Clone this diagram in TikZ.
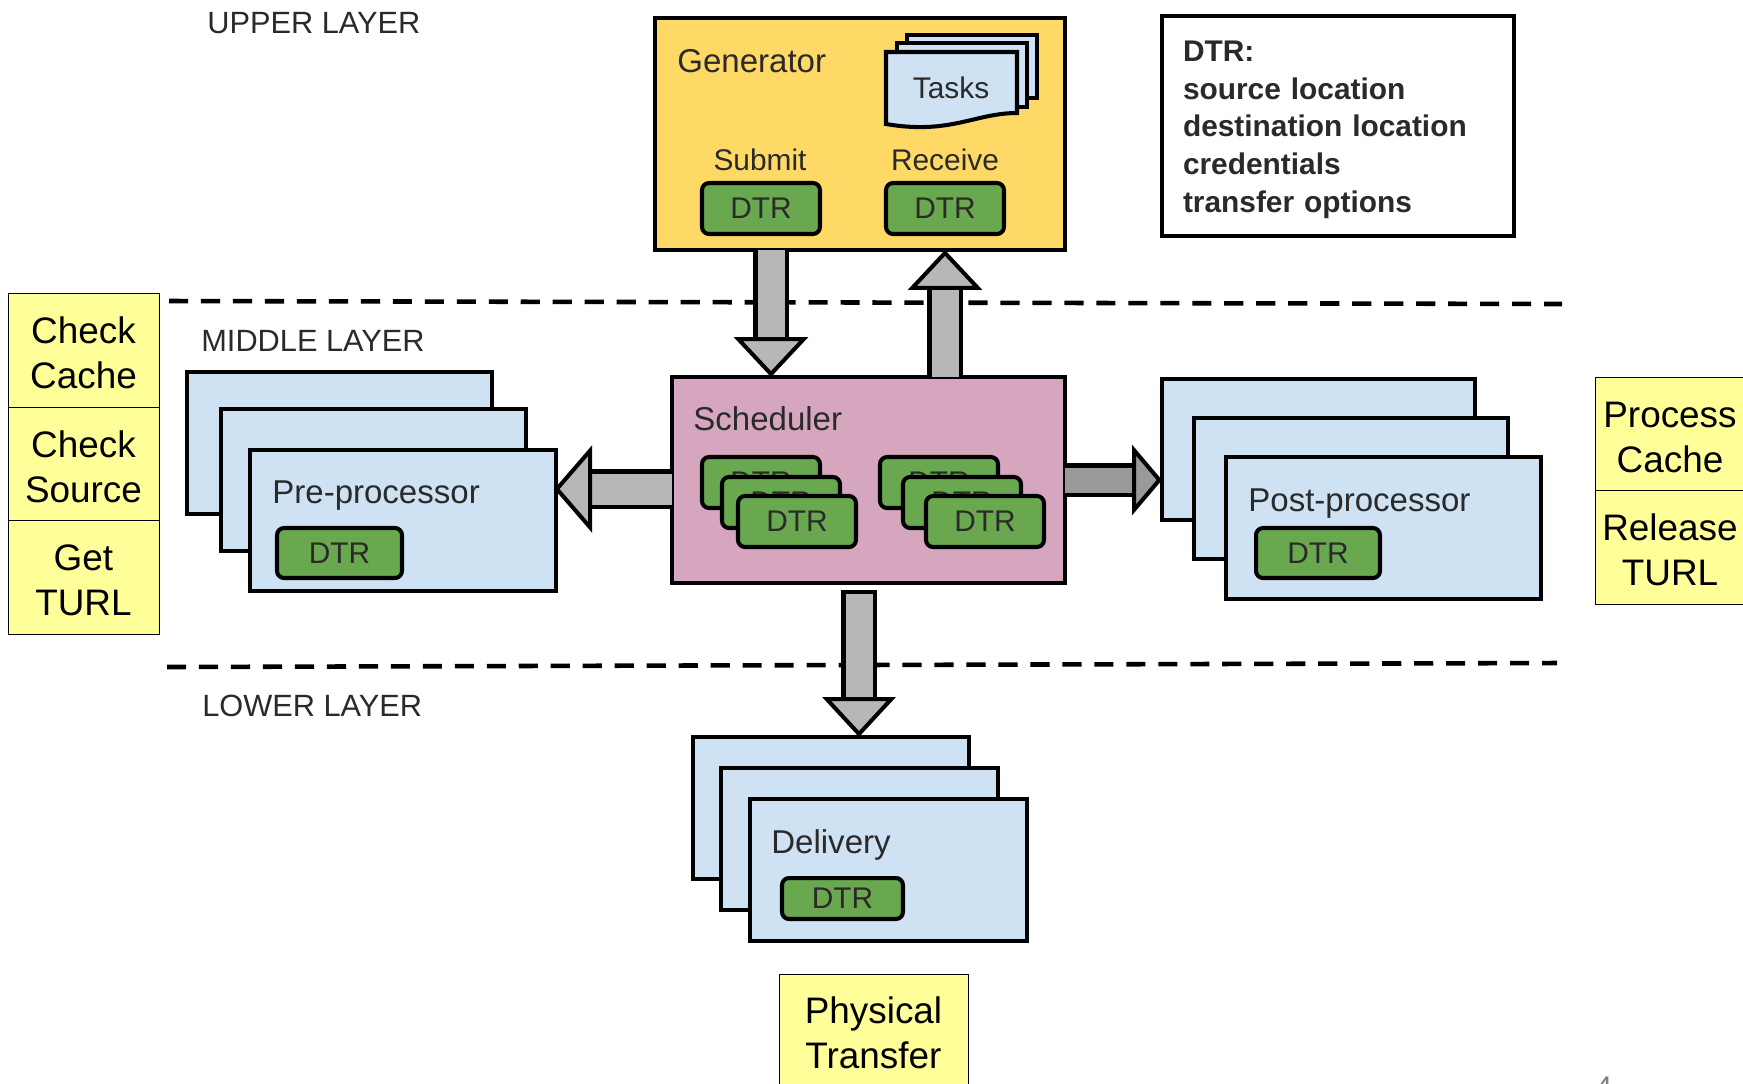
\documentclass[tikz,border=0pt]{standalone}
\usepackage{fontspec}
\setmainfont{Liberation Sans}
\usetikzlibrary{arrows.meta}
\definecolor{genyellow}{HTML}{FFD966}
\definecolor{schedpink}{HTML}{D5A6BD}
\definecolor{procblue}{HTML}{CFE2F3}
\definecolor{dtrgreen}{HTML}{6AA84F}
\definecolor{stepyellow}{HTML}{FFFF99}
\definecolor{arrowgray}{HTML}{B7B7B7}
\definecolor{arrowdark}{HTML}{999999}
\definecolor{labeltext}{HTML}{2A2A2A}
\tikzset{
  bigbox/.style={draw=black,line width=2.3pt,anchor=north west,inner sep=0pt,outer sep=0pt},
  procbox/.style={bigbox,fill=procblue},
  dtrbox/.style={draw=black,line width=2.3pt,fill=dtrgreen,rounded corners=4pt,anchor=north west,inner sep=0pt,outer sep=0pt,text=labeltext,font=\fontsize{17}{20}\selectfont},
  lbl/.style={inner sep=0pt,text=labeltext,font=\fontsize{18.8}{22}\selectfont},
  smalllbl/.style={inner sep=0pt,text=labeltext,font=\fontsize{17}{20}\selectfont},
  layerlbl/.style={inner sep=0pt,anchor=west,text=labeltext,font=\fontsize{17.5}{20}\selectfont},
  stepbox/.style={draw=black,line width=.5pt,fill=stepyellow,anchor=north west,inner sep=0pt,outer sep=0pt,text width=2.9cm,align=center,font=\fontsize{21}{25.6}\selectfont,execute at begin node={\rule{0pt}{20.3pt}},execute at end node={\rule[-1.9pt]{0pt}{1pt}}},
  layerline/.style={line width=2.6pt,dash pattern=on 10.9pt off 7.3pt},
  blockarrow/.style={draw=black,line width=2.3pt,double=arrowgray,double distance=.54cm,
    -{Triangle[length=.8cm,width=1.48cm,fill=arrowgray,line width=2.3pt]}},
  lowarrow/.style={draw=black,line width=2.3pt,double=arrowgray,double distance=.54cm,
    {Bar[width=.72cm,line width=2.3pt]}-{Triangle[length=.8cm,width=1.46cm,fill=arrowgray,line width=2.3pt]}},
  widearrow/.style={draw=black,line width=2.3pt,double=arrowgray,double distance=.62cm,shorten >=-1pt,
    -{Triangle[length=.76cm,width=1.74cm,fill=arrowgray,line width=2.3pt]}},
  darkarrow/.style={draw=black,line width=2.3pt,double=arrowdark,double distance=.5cm,
    -{Triangle[length=.6cm,width=1.4cm,fill=arrowdark,line width=2.3pt]}},
}
\begin{document}
\begin{tikzpicture}[x=.02cm,y=-.02cm]
  \useasboundingbox (0,0) rectangle (1743,1083);

  \coordinate (upperleft) at (169,301);
  \coordinate (upperright) at (1562,304);
  \coordinate (lowerleft) at (167,667);
  \coordinate (lowerright) at (1557,663);
  \draw[layerline] (upperleft) -- (upperright);
  \draw[layerline] (lowerleft) -- (lowerright);

  \node[layerlbl] (upperlbl) at (207,23) {UPPER LAYER};
  \node[layerlbl] (middlelbl) at (201,341) {MIDDLE LAYER};
  \node[layerlbl] (lowerlbl) at (202,706) {LOWER LAYER};

  \node[bigbox,fill=genyellow,minimum width=8.2cm,minimum height=4.64cm] (gen) at (655,18) {};
  \node[lbl,anchor=west] (genlbl) at (677,61) {Generator};
  \node[bigbox,fill=procblue,minimum width=2.6cm,minimum height=1.26cm] (taskc) at (907,35) {};
  \node[bigbox,fill=procblue,minimum width=2.6cm,minimum height=1.28cm] (taskb) at (897,43) {};
  \draw[line width=2.3pt,fill=procblue] (886,52) -- (1017,52) -- (1017,113)
     .. controls (975,113) and (950,135) .. (886,124) -- cycle;
  \node[smalllbl] (tasks) at (951,88) {Tasks};
  \node[smalllbl] (submit) at (760,160) {Submit};
  \node[smalllbl] (receive) at (945,160) {Receive};
  \node[dtrbox,minimum width=2.36cm,minimum height=1.02cm] (gendtra) at (702,183) {DTR};
  \node[dtrbox,minimum width=2.36cm,minimum height=1.02cm] (gendtrb) at (886,183) {DTR};

  \node[draw=black,line width=2.3pt,anchor=north west,inner sep=0pt,inner xsep=.42cm,outer sep=0pt,
     text width=6.2cm,minimum height=4.4cm,align=left,text=labeltext,execute at begin node={\rule{0pt}{16pt}},
     font=\fontsize{17}{21.4}\selectfont\bfseries] (legend) at (1162,16)
     {DTR:\\source location\\destination location\\credentials\\transfer options};

  \node[bigbox,fill=schedpink,minimum width=7.86cm,minimum height=4.12cm] (sched) at (672,377) {};
  \node[lbl,anchor=west] (schedlbl) at (693,419) {Scheduler};
  \node[dtrbox,minimum width=2.36cm,minimum height=1.02cm] (dtrla) at (702,457) {DTR};
  \node[dtrbox,minimum width=2.36cm,minimum height=1.02cm] (dtrlb) at (722,477) {DTR};
  \node[dtrbox,minimum width=2.36cm,minimum height=1.02cm] (dtrlc) at (738,496) {DTR};
  \node[dtrbox,minimum width=2.36cm,minimum height=1.02cm] (dtrra) at (880,457) {DTR};
  \node[dtrbox,minimum width=2.36cm,minimum height=1.02cm] (dtrrb) at (903,477) {DTR};
  \node[dtrbox,minimum width=2.36cm,minimum height=1.02cm] (dtrrc) at (926,496) {DTR};

  \node[procbox,minimum width=6.1cm,minimum height=2.84cm] (prea) at (187,372) {};
  \node[procbox,minimum width=6.1cm,minimum height=2.84cm] (preb) at (221,409) {};
  \node[procbox,minimum width=6.12cm,minimum height=2.82cm] (prec) at (250,450) {};
  \node[lbl,anchor=west] (prelbl) at (272,496) {Pre-processor};
  \node[dtrbox,minimum width=2.5cm,minimum height=1cm] (predtr) at (277,528) {DTR};

  \node[procbox,minimum width=6.26cm,minimum height=2.82cm] (posta) at (1162,379) {};
  \node[procbox,minimum width=6.28cm,minimum height=2.82cm] (postb) at (1194,418) {};
  \node[procbox,minimum width=6.3cm,minimum height=2.84cm] (postc) at (1226,457) {};
  \node[lbl,anchor=west] (postlbl) at (1248,504) {Post-processor};
  \node[dtrbox,minimum width=2.48cm,minimum height=1cm] (postdtr) at (1256,528) {DTR};

  \node[procbox,minimum width=5.52cm,minimum height=2.84cm] (dela) at (693,737) {};
  \node[procbox,minimum width=5.54cm,minimum height=2.84cm] (delb) at (721,768) {};
  \node[procbox,minimum width=5.54cm,minimum height=2.84cm] (delc) at (750,799) {};
  \node[lbl,anchor=west] (dellbl) at (771,845) {Delivery};
  \node[dtrbox,minimum width=2.42cm,minimum height=.82cm] (deldtr) at (782,878) {DTR};

  \coordinate (downx) at (771,0);
  \coordinate (upx) at (945,0);
  \coordinate (lefty) at (0,489);
  \coordinate (righty) at (0,480);
  \coordinate (lowx) at (859,0);
  \draw[blockarrow] (gen.south -| downx) -- (sched.north -| downx);
  \draw[blockarrow] (sched.north -| upx) -- (gen.south -| upx);
  \draw[widearrow] (sched.west |- lefty) -- (prec.east |- lefty);
  \draw[darkarrow] (sched.east |- righty) -- (posta.west |- righty);
  \draw[lowarrow] ([yshift=-4pt]sched.south -| lowx) -- (dela.north -| lowx);

  \node[stepbox,minimum width=3.02cm,minimum height=2.28cm] (checkcache) at (8,293) {Check\\Cache};
  \node[stepbox,minimum width=3.02cm,minimum height=2.26cm] (checksource) at (8,407) {Check\\Source};
  \node[stepbox,minimum width=3.02cm,minimum height=2.28cm] (getturl) at (8,520) {Get\\TURL};
  \node[stepbox,minimum width=3cm,minimum height=2.26cm] (processcache) at (1595,377) {Process\\Cache};
  \node[stepbox,minimum width=3cm,minimum height=2.28cm] (releaseturl) at (1595,490) {Release\\TURL};
  \node[stepbox,minimum width=3.78cm,minimum height=2.24cm] (physical) at (779,974) {Physical\\Transfer};
  \node[smalllbl,text=gray] (pagenum) at (1604,1087) {4};
\end{tikzpicture}
\end{document}
